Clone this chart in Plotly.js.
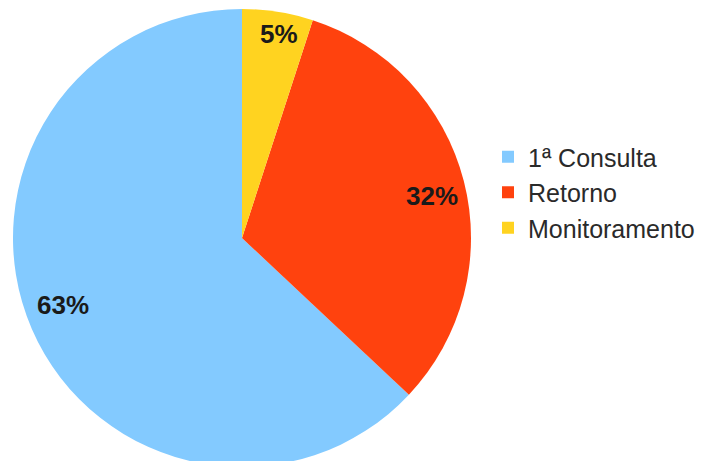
<!DOCTYPE html>
<html>
<head>
<meta charset="utf-8">
<script src="https://cdn.plot.ly/plotly-3.0.1.min.js"></script>
<style>
html,body{margin:0;padding:0;overflow:hidden;background:#fff;}
#chart{width:708px;height:476px;}
</style>
</head>
<body>
<div id="chart"></div>
<script>
const categories = ["1ª Consulta", "Retorno", "Monitoramento"];
const values = [63, 32, 5];
const colors = ["#83caff", "#ff420e", "#ffd320"];

const W = 708, H = 476;
const cx = 242, cy = 238, r = 229;
const total = values.reduce((a, b) => a + b, 0);
// counterclockwise drawing: first slice ends at 12 o'clock
const rotation = 360 * (1 - values[0] / total);

const trace = {
  type: "pie",
  labels: categories,
  values: values,
  sort: false,
  direction: "counterclockwise",
  rotation: rotation,
  marker: {colors: colors, line: {width: 0}},
  textinfo: "none",
  hoverinfo: "label+percent",
  domain: {x: [(cx - r) / W, (cx + r) / W], y: [(H - (cy + r)) / H, (H - (cy - r)) / H]}
};

// percentage labels near the rim, at each slice's mid angle (clockwise from 12 o'clock)
const angles = [];
{
  let a = rotation + 360 * values[0] / total;
  for (let i = 0; i < values.length; i++) {
    const span = 360 * values[i] / total;
    a -= span;
    angles.push(a + span / 2);
  }
}
const rr = [0.85, 0.85, 0.89];
const shifts = [[0, 10], [1, -6], [5, 3]];
const annotations = values.map((v, i) => {
  const ang = angles[i] * Math.PI / 180;
  const px = cx + r * rr[i] * Math.sin(ang);
  const py = cy - r * rr[i] * Math.cos(ang);
  return {
    xref: "paper", yref: "paper",
    x: px / W, y: (H - py) / H,
    xanchor: "center", yanchor: "middle",
    xshift: shifts[i][0], yshift: shifts[i][1],
    showarrow: false,
    text: "<b>" + Math.round(100 * v / total) + "%</b>",
    font: {family: "Liberation Sans", size: 26, color: "#1a1a1a"}
  };
});

const layout = {
  width: W, height: H,
  margin: {l: 0, r: 0, t: 0, b: 0},
  paper_bgcolor: "#ffffff",
  showlegend: true,
  annotations: annotations,
  legend: {
    x: 488 / W, y: (H - 134) / H, xanchor: "left", yanchor: "top",
    font: {family: "Liberation Sans", size: 25, color: "#2a2a2a"},
    bgcolor: "rgba(0,0,0,0)", traceorder: "normal"
  }
};

Plotly.newPlot("chart", [trace], layout, {displayModeBar: false, staticPlot: true});
</script>
</body>
</html>
